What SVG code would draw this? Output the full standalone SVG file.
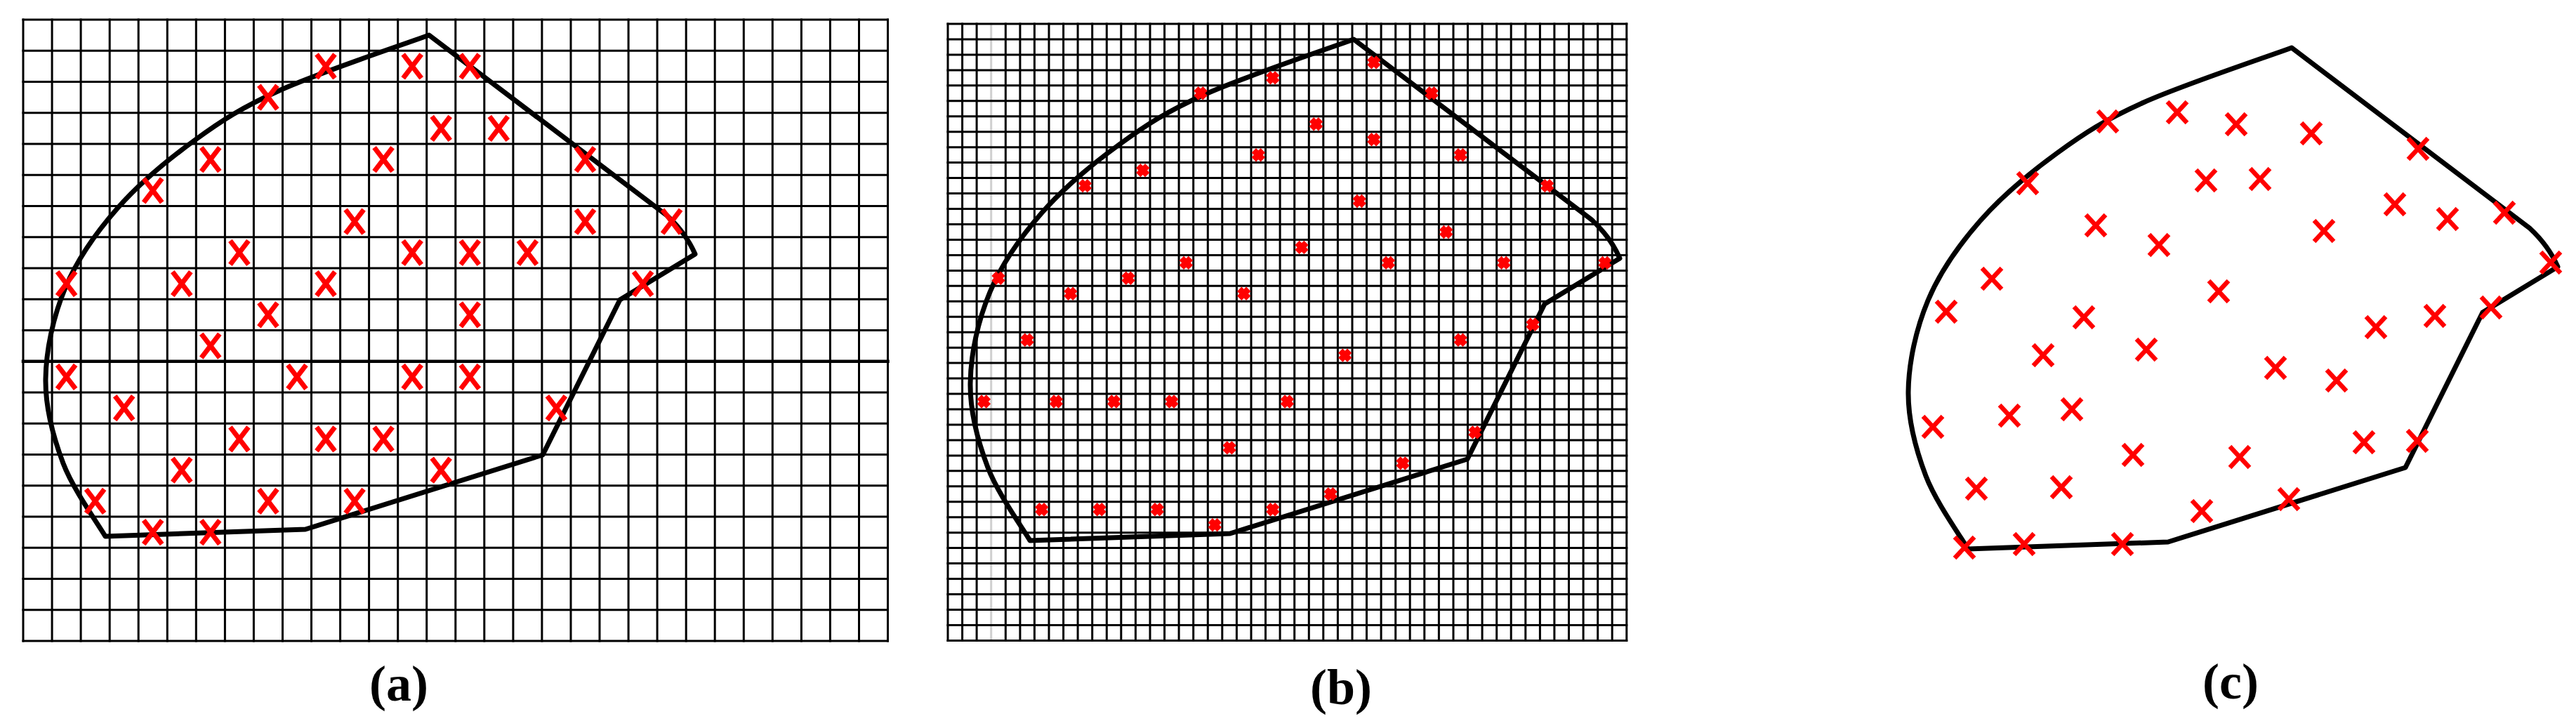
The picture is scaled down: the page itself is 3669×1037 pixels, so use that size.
<svg xmlns="http://www.w3.org/2000/svg" width="3669" height="1037" viewBox="0 0 3669 1037">
<style>
.grid{fill:none;stroke:#000;stroke-width:3;stroke-linecap:square}
.gridb{fill:none;stroke:#000;stroke-width:3;stroke-linecap:square}
.bnd{fill:none;stroke:#000;stroke-width:7;stroke-linejoin:round}
.xa{fill:none;stroke:#ff0000;stroke-width:7}
.xb{fill:none;stroke:#ff0000;stroke-width:9}
.xc{fill:none;stroke:#ff0000;stroke-width:6.5}
.lbl{font-family:"Liberation Serif","Times New Roman",serif;font-weight:bold;font-size:72px;text-anchor:middle;fill:#000}
</style>
<defs>
<path id="boundary" d="M611,50 L950,307 Q977,332 990,362 L883,427 L773,648 L435,754 L150,764 C140,746.7 104.2,697.3 90,660 C75.8,622.7 64.5,581.7 65,540 C65.5,498.3 76,450.5 93,410 C110,369.5 136.3,332 167,297 C197.7,262 238.2,228.2 277,200 C315.8,171.8 344.3,153 400,128 C455.7,103 575.8,63 611,50 Z"/>
<path id="ma" class="xa" d="M-13,-17L13,17M-13,17L13,-17"/>
<path id="mb" class="xb" d="M-6.5,-6.5L6.5,6.5M-6.5,6.5L6.5,-6.5"/>
<path id="mc" class="xc" d="M-14,-15L14,15M-14,15L14,-15"/>
</defs>
<rect width="3669" height="1037" fill="#fff"/>

<g id="panel-a">
<path class="grid" d="M33,28V913M74.1,28V913M115.1,28V913M156.2,28V913M197.2,28V913M238.3,28V913M279.3,28V913M320.4,28V913M361.4,28V913M402.5,28V913M443.5,28V913M484.6,28V913M525.6,28V913M566.7,28V913M607.7,28V913M648.8,28V913M689.8,28V913M730.9,28V913M771.9,28V913M813,28V913M854,28V913M895.1,28V913M936.1,28V913M977.2,28V913M1018.2,28V913M1059.3,28V913M1100.3,28V913M1141.4,28V913M1182.4,28V913M1223.5,28V913M1264.5,28V913"/>
<path class="grid" d="M33,28H1264.5M33,72.3H1264.5M33,116.5H1264.5M33,160.8H1264.5M33,205H1264.5M33,249.3H1264.5M33,293.5H1264.5M33,337.8H1264.5M33,382H1264.5M33,426.3H1264.5M33,470.5H1264.5M33,559H1264.5M33,603.3H1264.5M33,647.5H1264.5M33,691.8H1264.5M33,736H1264.5M33,780.3H1264.5M33,824.5H1264.5M33,868.8H1264.5M33,913H1264.5"/>
<path class="grid" style="stroke-width:4.5" d="M33,514.8H1264.5"/>
<use href="#boundary" class="bnd"/>
<g id="markers-a">
<use href="#ma" x="464" y="94.4"/><use href="#ma" x="587.2" y="94.4"/><use href="#ma" x="669.3" y="94.4"/>
<use href="#ma" x="381.9" y="138.6"/>
<use href="#ma" x="628.2" y="182.9"/><use href="#ma" x="710.3" y="182.9"/>
<use href="#ma" x="299.8" y="227.1"/><use href="#ma" x="546.1" y="227.1"/><use href="#ma" x="833.5" y="227.1"/>
<use href="#ma" x="217.7" y="271.4"/>
<use href="#ma" x="505.1" y="315.6"/><use href="#ma" x="833.5" y="315.6"/><use href="#ma" x="956.6" y="315.6"/>
<use href="#ma" x="340.9" y="359.9"/><use href="#ma" x="587.2" y="359.9"/><use href="#ma" x="669.3" y="359.9"/><use href="#ma" x="751.4" y="359.9"/>
<use href="#ma" x="94.6" y="404.1"/><use href="#ma" x="258.8" y="404.1"/><use href="#ma" x="464" y="404.1"/><use href="#ma" x="915.6" y="404.1"/>
<use href="#ma" x="381.9" y="448.4"/><use href="#ma" x="669.3" y="448.4"/>
<use href="#ma" x="299.8" y="492.6"/>
<use href="#ma" x="94.6" y="536.9"/><use href="#ma" x="423" y="536.9"/><use href="#ma" x="587.2" y="536.9"/><use href="#ma" x="669.3" y="536.9"/>
<use href="#ma" x="176.7" y="581.1"/><use href="#ma" x="792.4" y="581.1"/>
<use href="#ma" x="340.9" y="625.4"/><use href="#ma" x="464" y="625.4"/><use href="#ma" x="546.1" y="625.4"/>
<use href="#ma" x="258.8" y="669.6"/><use href="#ma" x="628.2" y="669.6"/>
<use href="#ma" x="135.6" y="713.9"/><use href="#ma" x="381.9" y="713.9"/><use href="#ma" x="505.1" y="713.9"/>
<use href="#ma" x="217.7" y="758.1"/><use href="#ma" x="299.8" y="758.1"/>
</g>
<text class="lbl" x="568" y="998">(a)</text>
</g>

<g id="panel-b">
<path class="gridb" d="M1350,34V912.4M1370.6,34V912.4M1391.1,34V912.4M1432.3,34V912.4M1452.9,34V912.4M1473.4,34V912.4M1494,34V912.4M1514.6,34V912.4M1535.1,34V912.4M1555.7,34V912.4M1576.3,34V912.4M1596.8,34V912.4M1617.4,34V912.4M1638,34V912.4M1658.6,34V912.4M1679.1,34V912.4M1699.7,34V912.4M1720.3,34V912.4M1740.8,34V912.4M1761.4,34V912.4M1782,34V912.4M1802.5,34V912.4M1823.1,34V912.4M1843.7,34V912.4M1864.3,34V912.4M1884.8,34V912.4M1905.4,34V912.4M1926,34V912.4M1946.5,34V912.4M1967.1,34V912.4M1987.7,34V912.4M2008.2,34V912.4M2028.8,34V912.4M2049.4,34V912.4M2070,34V912.4M2090.5,34V912.4M2111.1,34V912.4M2131.7,34V912.4M2152.2,34V912.4M2172.8,34V912.4M2193.4,34V912.4M2213.9,34V912.4M2234.5,34V912.4M2255.1,34V912.4M2275.7,34V912.4M2296.2,34V912.4M2316.8,34V912.4"/>
<path class="gridb" style="stroke:#cfcfcf" d="M1411.7,34V912.4"/>
<path class="gridb" d="M1350,34H2316.8M1350,56H2316.8M1350,77.9H2316.8M1350,99.9H2316.8M1350,121.8H2316.8M1350,143.8H2316.8M1350,165.8H2316.8M1350,187.7H2316.8M1350,209.7H2316.8M1350,231.6H2316.8M1350,253.6H2316.8M1350,275.6H2316.8M1350,297.5H2316.8M1350,319.5H2316.8M1350,341.4H2316.8M1350,363.4H2316.8M1350,385.4H2316.8M1350,407.3H2316.8M1350,429.3H2316.8M1350,451.2H2316.8M1350,473.2H2316.8M1350,495.2H2316.8M1350,517.1H2316.8M1350,539.1H2316.8M1350,561H2316.8M1350,583H2316.8M1350,605H2316.8M1350,626.9H2316.8M1350,648.9H2316.8M1350,670.8H2316.8M1350,692.8H2316.8M1350,714.8H2316.8M1350,736.7H2316.8M1350,758.7H2316.8M1350,780.6H2316.8M1350,802.6H2316.8M1350,824.6H2316.8M1350,846.5H2316.8M1350,868.5H2316.8M1350,890.4H2316.8M1350,912.4H2316.8"/>
<use href="#boundary" class="bnd" transform="translate(1317,6)"/>
<g id="markers-b">
<use href="#mb" x="1956.8" y="88.9"/><use href="#mb" x="1812.8" y="110.9"/><use href="#mb" x="1710" y="132.8"/><use href="#mb" x="2039.1" y="132.8"/>
<use href="#mb" x="1874.5" y="176.7"/><use href="#mb" x="1956.8" y="198.7"/><use href="#mb" x="1792.3" y="220.7"/><use href="#mb" x="2080.2" y="220.7"/>
<use href="#mb" x="1627.7" y="242.6"/><use href="#mb" x="1545.4" y="264.6"/><use href="#mb" x="2203.7" y="264.6"/><use href="#mb" x="1936.2" y="286.5"/>
<use href="#mb" x="2059.7" y="330.5"/><use href="#mb" x="1854" y="352.4"/><use href="#mb" x="1689.4" y="374.4"/><use href="#mb" x="1977.4" y="374.4"/>
<use href="#mb" x="2141.9" y="374.4"/><use href="#mb" x="2285.9" y="374.4"/><use href="#mb" x="1422" y="396.3"/><use href="#mb" x="1607.1" y="396.3"/>
<use href="#mb" x="1524.8" y="418.3"/><use href="#mb" x="1771.7" y="418.3"/><use href="#mb" x="2183.1" y="462.2"/><use href="#mb" x="1463.1" y="484.2"/>
<use href="#mb" x="2080.2" y="484.2"/><use href="#mb" x="1915.7" y="506.1"/><use href="#mb" x="1401.4" y="572"/><use href="#mb" x="1504.3" y="572"/>
<use href="#mb" x="1586.6" y="572"/><use href="#mb" x="1668.8" y="572"/><use href="#mb" x="1833.4" y="572"/><use href="#mb" x="2100.8" y="615.9"/>
<use href="#mb" x="1751.1" y="637.9"/><use href="#mb" x="1998" y="659.9"/><use href="#mb" x="1895.1" y="703.8"/><use href="#mb" x="1483.7" y="725.7"/>
<use href="#mb" x="1566" y="725.7"/><use href="#mb" x="1648.3" y="725.7"/><use href="#mb" x="1812.8" y="725.7"/><use href="#mb" x="1730.3" y="747.7"/>
</g>
<text class="lbl" x="1910" y="1003">(b)</text>
</g>

<g id="panel-c">
<use href="#boundary" class="bnd" transform="translate(2653,18)"/>
<g id="markers-c">
<use href="#mc" x="3002" y="173"/><use href="#mc" x="3101" y="160"/><use href="#mc" x="3185" y="177"/><use href="#mc" x="3292" y="190"/>
<use href="#mc" x="3444" y="212"/><use href="#mc" x="2888" y="261"/><use href="#mc" x="3142" y="257"/><use href="#mc" x="3219" y="255"/>
<use href="#mc" x="3411" y="291"/><use href="#mc" x="3486" y="312"/><use href="#mc" x="3567" y="303"/><use href="#mc" x="2985" y="321"/>
<use href="#mc" x="3075" y="349"/><use href="#mc" x="3310" y="329"/><use href="#mc" x="3633" y="374"/><use href="#mc" x="2837" y="397"/>
<use href="#mc" x="3160" y="415"/><use href="#mc" x="2772" y="444"/><use href="#mc" x="2968" y="452"/><use href="#mc" x="3384" y="466"/>
<use href="#mc" x="3468" y="450"/><use href="#mc" x="3548" y="438"/><use href="#mc" x="2910" y="506"/><use href="#mc" x="3057" y="498"/>
<use href="#mc" x="3241" y="524"/><use href="#mc" x="3328" y="542"/><use href="#mc" x="2753" y="608"/><use href="#mc" x="2862" y="592"/>
<use href="#mc" x="2951" y="583"/><use href="#mc" x="3038" y="648"/><use href="#mc" x="3190" y="651"/><use href="#mc" x="3367" y="630"/>
<use href="#mc" x="3443" y="628"/><use href="#mc" x="2815" y="696"/><use href="#mc" x="2936" y="694"/><use href="#mc" x="3260" y="711"/>
<use href="#mc" x="3136" y="728"/><use href="#mc" x="2798" y="780"/><use href="#mc" x="2883" y="775"/><use href="#mc" x="3023" y="775"/>
</g>
<text class="lbl" x="3177" y="995">(c)</text>
</g>
</svg>
